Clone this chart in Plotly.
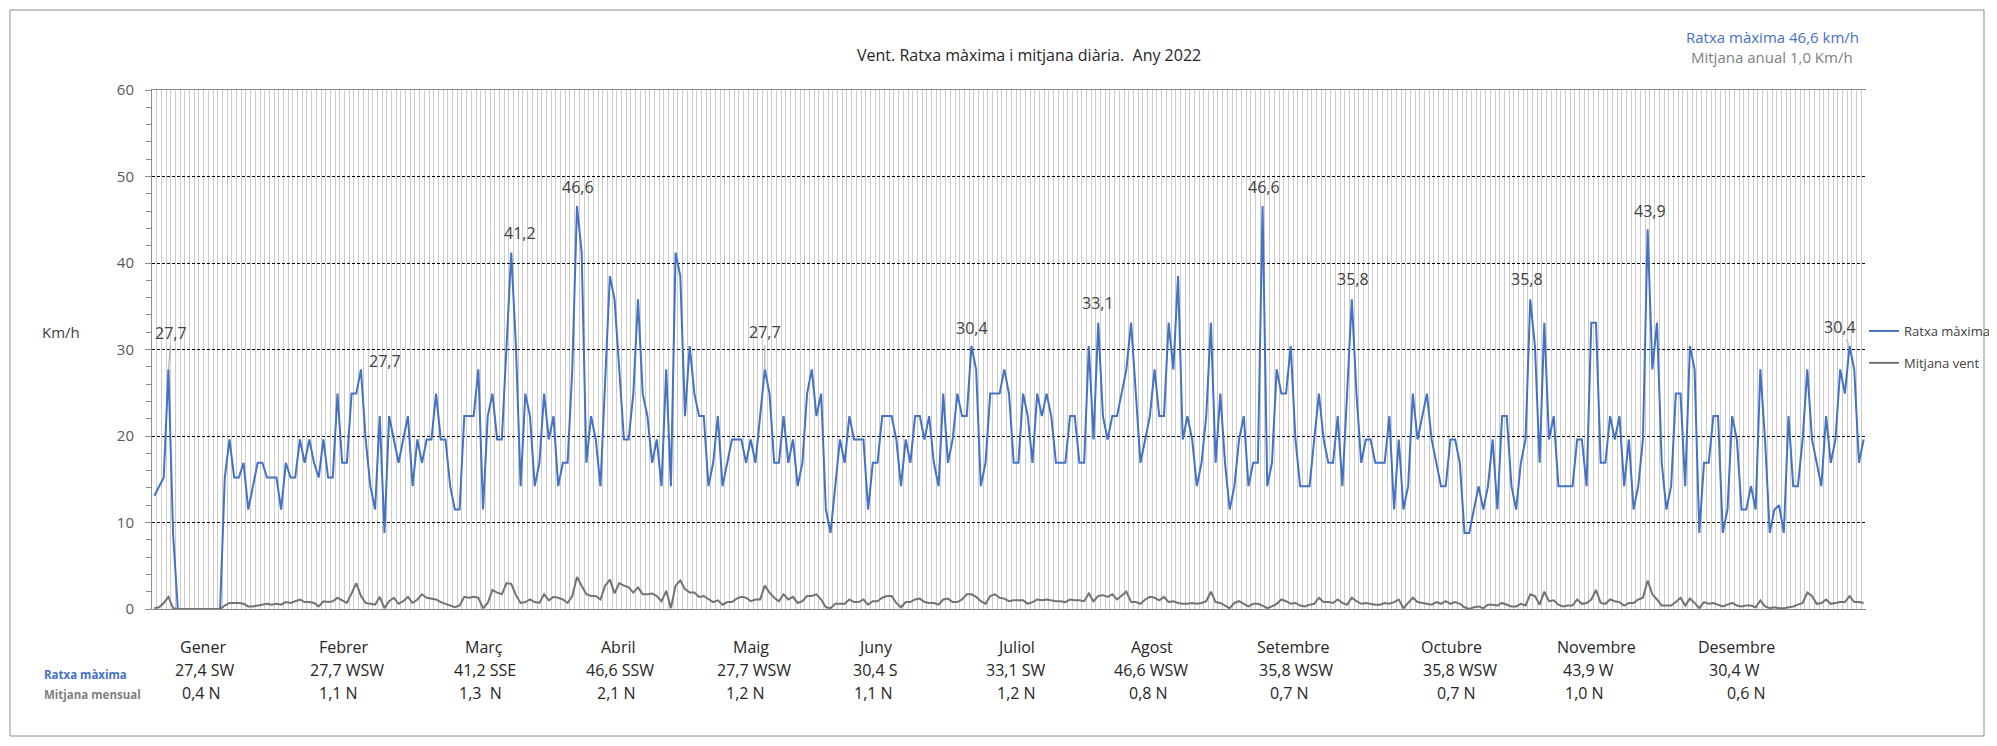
import plotly.graph_objects as go

# ---------------- DATA ----------------
mesos = ["Gener", "Febrer", "Març", "Abril", "Maig", "Juny", "Juliol", "Agost",
         "Setembre", "Octubre", "Novembre", "Desembre"]
ratxa_mes = ["27,4 SW", "27,7 WSW", "41,2 SSE", "46,6 SSW", "27,7 WSW", "30,4 S",
             "33,1 SW", "46,6 WSW", "35,8 WSW", "35,8 WSW", "43,9 W", "30,4 W"]
mitjana_mes = ["0,4 N", "1,1 N", "1,3  N", "2,1 N", "1,2 N", "1,1 N", "1,2 N",
               "0,8 N", "0,7 N", "0,7 N", "1,0 N", "0,6 N"]

# Ratxa màxima diària (km/h), per mes
ratxa_gen = [13.1, 14.2, 15.2, 27.7, 8.6, 0, 0, 0, 0, 0, 0, 0, 0, 0, 0, 15.2, 19.6, 15.2,
             15.2, 16.9, 11.5, 14.2, 16.9, 16.9, 15.2, 15.2, 15.2, 11.5, 16.9, 15.2, 15.2]
ratxa_feb = [19.6, 16.9, 19.6, 16.9, 15.2, 19.6, 15.2, 15.2, 24.9, 16.9, 16.9, 24.9, 24.9,
             27.7, 19.6, 14.2, 11.5, 22.3, 8.8, 22.3, 19.6, 16.9, 19.6, 22.3, 14.2, 19.6,
             16.9, 19.6]
ratxa_mar = [19.6, 24.9, 19.6, 19.6, 14.2, 11.5, 11.5, 22.3, 22.3, 22.3, 27.7, 11.5, 22.3,
             24.9, 19.6, 19.6, 30.4, 41.2, 30.4, 14.2, 24.9, 22.3, 14.2, 16.9, 24.9, 19.6,
             22.3, 14.2, 16.9, 16.9, 27.7]
ratxa_abr = [46.6, 41.2, 16.9, 22.3, 19.6, 14.2, 26.3, 38.5, 35.8, 27.7, 19.6, 19.6, 24.9,
             35.8, 24.9, 22.3, 16.9, 19.6, 14.2, 27.7, 14.2, 41.2, 38.5, 22.3, 30.4, 24.9,
             22.3, 22.3, 14.2, 16.9]
ratxa_mai = [22.3, 14.2, 16.9, 19.6, 19.6, 19.6, 16.9, 19.6, 16.9, 22.3, 27.7, 24.9, 16.9,
             16.9, 22.3, 16.9, 19.6, 14.2, 16.9, 24.9, 27.7, 22.3, 24.9, 11.5, 8.8, 14.2,
             19.6, 16.9, 22.3, 19.6, 19.6]
ratxa_jun = [19.6, 11.5, 16.9, 16.9, 22.3, 22.3, 22.3, 19.6, 14.2, 19.6, 16.9, 22.3, 22.3,
             19.6, 22.3, 16.9, 14.2, 24.9, 16.9, 19.6, 24.9, 22.3, 22.3, 30.4, 27.7, 14.2,
             16.9, 24.9, 24.9, 24.9]
ratxa_jul = [27.7, 24.9, 16.9, 16.9, 24.9, 22.3, 16.9, 24.9, 22.3, 24.9, 22.3, 16.9, 16.9,
             16.9, 22.3, 22.3, 16.9, 16.9, 30.4, 19.6, 33.1, 22.3, 19.6, 22.3, 22.3, 24.9,
             27.7, 33.1, 24.9, 16.9, 19.6]
ratxa_ago = [22.3, 27.7, 22.3, 22.3, 33.1, 27.7, 38.5, 19.6, 22.3, 19.6, 14.2, 16.9, 22.3,
             33.1, 16.9, 24.9, 16.9, 11.5, 14.2, 19.6, 22.3, 14.2, 16.9, 16.9, 46.6, 14.2,
             16.9, 27.7, 24.9, 24.9, 30.4]
ratxa_set = [19.6, 14.2, 14.2, 14.2, 19.6, 24.9, 19.6, 16.9, 16.9, 22.3, 14.2, 24.9, 35.8,
             24.9, 16.9, 19.6, 19.6, 16.9, 16.9, 16.9, 22.3, 11.5, 19.6, 11.5, 14.2, 24.9,
             19.6, 22.3, 24.9, 19.6]
ratxa_oct = [16.9, 14.2, 14.2, 19.6, 19.6, 16.9, 8.8, 8.8, 11.5, 14.2, 11.5, 14.2, 19.6,
             11.5, 22.3, 22.3, 14.2, 11.5, 16.9, 19.6, 35.8, 30.4, 16.9, 33.1, 19.6, 22.3,
             14.2, 14.2, 14.2, 14.2, 19.6]
ratxa_nov = [19.6, 14.2, 33.1, 33.1, 16.9, 16.9, 22.3, 19.6, 22.3, 14.2, 19.6, 11.5, 14.2,
             19.6, 43.9, 27.7, 33.1, 16.9, 11.5, 14.2, 24.9, 24.9, 14.2, 30.4, 27.7, 8.8,
             16.9, 16.9, 22.3, 22.3]
ratxa_des = [8.8, 11.5, 22.3, 19.6, 11.5, 11.5, 14.2, 11.5, 27.7, 19.6, 8.8, 11.5, 12.0,
             8.8, 22.3, 14.2, 14.2, 19.6, 27.7, 19.6, 16.9, 14.2, 22.3, 16.9, 19.6, 27.7,
             24.9, 30.4, 27.7, 16.9, 19.6]

# Mitjana diària del vent (km/h), per mes
mitjana_gen = [0.1, 0.2, 0.7, 1.4, 0.1, 0, 0, 0, 0, 0, 0, 0, 0, 0, 0, 0.4, 0.7, 0.7, 0.7,
               0.6, 0.3, 0.3, 0.4, 0.5, 0.6, 0.5, 0.6, 0.5, 0.8, 0.7, 0.9]
mitjana_feb = [1.1, 0.8, 0.8, 0.7, 0.3, 0.9, 0.8, 0.9, 1.3, 1.0, 0.7, 1.8, 3.0, 1.5, 0.7,
               0.6, 0.5, 1.4, 0.1, 0.9, 1.3, 0.6, 0.9, 1.4, 0.7, 1.1, 1.7, 1.3]
mitjana_mar = [1.2, 1.1, 0.8, 0.6, 0.4, 0.2, 0.4, 1.4, 1.3, 1.4, 1.3, 0.1, 0.7, 2.2, 1.9,
               1.7, 3.0, 2.9, 1.6, 0.7, 0.8, 1.1, 0.8, 0.7, 1.7, 1.0, 1.4, 1.3, 1.1, 0.7, 1.5]
mitjana_abr = [3.7, 2.7, 1.7, 1.5, 1.5, 1.1, 2.7, 3.4, 1.8, 3.0, 2.7, 2.5, 1.9, 2.5, 1.7,
               1.7, 1.8, 1.5, 0.9, 2.1, 0.1, 2.7, 3.3, 2.3, 1.9, 1.9, 1.4, 1.5, 1.1, 0.8]
mitjana_mai = [1.0, 0.5, 0.8, 0.8, 1.2, 1.4, 1.3, 0.9, 1.1, 1.1, 2.7, 1.9, 1.3, 0.9, 1.7,
               1.1, 1.4, 0.7, 0.9, 1.5, 1.5, 1.7, 1.1, 0.2, 0.1, 0.6, 0.6, 0.6, 1.1, 0.8, 0.8]
mitjana_jun = [1.1, 0.5, 0.9, 0.9, 1.3, 1.5, 1.5, 0.7, 0.2, 0.8, 0.8, 1.1, 1.2, 0.8, 0.7,
               0.7, 0.5, 1.1, 1.2, 0.8, 0.8, 1.1, 1.7, 1.7, 1.4, 0.9, 0.6, 1.5, 1.7, 1.3]
mitjana_jul = [1.2, 0.9, 1.0, 1.0, 1.0, 0.6, 0.8, 1.1, 1.0, 1.1, 1.0, 0.9, 0.9, 0.8, 1.1,
               1.0, 1.0, 0.9, 1.8, 0.9, 1.5, 1.6, 1.4, 1.7, 1.1, 1.5, 2.0, 0.8, 0.8, 0.6, 1.1]
mitjana_ago = [1.4, 1.3, 1.0, 1.4, 0.8, 0.9, 0.7, 0.6, 0.6, 0.7, 0.6, 0.7, 0.9, 2.0, 0.8,
               0.7, 0.4, 0.1, 0.7, 0.9, 0.6, 0.3, 0.6, 0.6, 0.4, 0.1, 0.3, 0.6, 1.1, 0.9, 0.6]
mitjana_set = [0.7, 0.4, 0.3, 0.5, 0.6, 1.3, 0.8, 0.8, 0.7, 1.1, 0.7, 0.5, 1.3, 0.9, 0.6,
               0.7, 0.6, 0.5, 0.5, 0.7, 0.6, 0.8, 1.1, 0.1, 0.7, 1.3, 0.8, 0.7, 0.6, 0.5]
mitjana_oct = [0.8, 0.6, 0.9, 0.6, 0.8, 0.6, 0.2, 0.0, 0.2, 0.3, 0.1, 0.5, 0.5, 0.4, 0.7,
               0.5, 0.3, 0.3, 0.6, 0.4, 1.7, 1.5, 0.5, 2.0, 0.9, 1.0, 0.5, 0.3, 0.4, 0.4, 1.1]
mitjana_nov = [0.6, 0.7, 1.1, 2.2, 0.7, 0.6, 1.1, 0.9, 0.8, 0.4, 0.7, 0.7, 1.1, 1.3, 3.3,
               1.7, 1.1, 0.4, 0.4, 0.4, 0.8, 1.3, 0.4, 1.2, 0.7, 0.1, 0.8, 0.6, 0.7, 0.5]
mitjana_des = [0.3, 0.5, 0.7, 0.4, 0.3, 0.4, 0.4, 0.2, 1.0, 0.3, 0.1, 0.2, 0.1, 0.1, 0.2,
               0.3, 0.5, 0.7, 1.9, 1.5, 0.6, 0.7, 1.1, 0.6, 0.7, 0.8, 0.8, 1.5, 0.8, 0.8, 0.7]

# days (0-based) whose gust carries a data label
dies_etiquetats = [3, 44, 76, 90, 130, 174, 201, 236, 255, 293, 318, 361]

ratxa = (ratxa_gen + ratxa_feb + ratxa_mar + ratxa_abr + ratxa_mai + ratxa_jun +
         ratxa_jul + ratxa_ago + ratxa_set + ratxa_oct + ratxa_nov + ratxa_des)
mitjana = (mitjana_gen + mitjana_feb + mitjana_mar + mitjana_abr + mitjana_mai +
           mitjana_jun + mitjana_jul + mitjana_ago + mitjana_set + mitjana_oct +
           mitjana_nov + mitjana_des)
dies = list(range(len(ratxa)))

# ---------------- LAYOUT ----------------
PAGE_W, PAGE_H = 1997, 746
OFF = 8                      # default body margin of the html page
W, H = PAGE_W - OFF, PAGE_H - OFF
L, R, T, B = 152, 1866, 90, 609     # plot area in page pixels
PW, PH = R - L, B - T
FONT = "Open Sans, DejaVu Sans, sans-serif"
BLUE = "#4472C4"
GREY = "#737373"
TXT = "#404040"
DARK = "#262626"


def px(xp):
    return (xp - L) / PW


def py(yp):
    return (B - yp) / PH


# label offsets in pixels (dx, dy, leader line)
label_offsets = [(3, -36, True), (24, -8, False), (9, -20, False), (1, -19, False),
                 (0, -37, True), (1, -18, False), (0, -20, False), (1, -19, False),
                 (1, -20, False), (-3, -20, False), (2, -18, False), (-10, -19, True)]

# table columns (pixel centres)
mes_x = [203, 344, 484, 618, 751, 875, 1016, 1152, 1293, 1451, 1596, 1736]
ratxa_x = [205, 347, 485, 620, 754, 875, 1016, 1151, 1296, 1460, 1588, 1734]
mitj_x = [201, 338, 480, 616, 745, 873, 1016, 1148, 1289, 1456, 1584, 1746]

fig = go.Figure()
fig.add_trace(go.Scatter(x=dies, y=ratxa, mode="lines", name="Ratxa màxima",
                         legendgroup="a", line=dict(color=BLUE, width=2)))
fig.add_trace(go.Scatter(x=dies, y=mitjana, mode="lines", name="Mitjana vent",
                         legendgroup="b", line=dict(color=GREY, width=2)))

annotations = []
for d, (dx, dy, lead) in zip(dies_etiquetats, label_offsets):
    annotations.append(dict(
        x=d, y=ratxa[d], xref="x", yref="y",
        text=f"{ratxa[d]:.1f}".replace(".", ","),
        showarrow=True, arrowhead=0, arrowwidth=1,
        arrowcolor="#a6a6a6" if lead else "rgba(0,0,0,0)",
        ax=dx, ay=dy, font=dict(family=FONT, size=16, color=TXT)))


def txt(xp, yp, text, size, color, xanchor="center"):
    return dict(x=px(xp), y=py(yp), xref="paper", yref="paper", text=text,
                xanchor=xanchor, yanchor="middle", showarrow=False,
                font=dict(family=FONT, size=size, color=color))


annotations.append(txt(1029, 55, "Vent. Ratxa màxima i mitjana diària.  Any 2022", 16, DARK))
annotations.append(txt(1772, 37, "Ratxa màxima 46,6 km/h", 15, BLUE))
annotations.append(txt(1772, 57, "Mitjana anual 1,0 Km/h", 15, "#7f7f7f"))
annotations.append(txt(61, 332, "Km/h", 15, TXT))

for m, xm, t1, x1, t2, x2 in zip(mesos, mes_x, ratxa_mes, ratxa_x, mitjana_mes, mitj_x):
    annotations.append(txt(xm, 647, m, 16, DARK))
    annotations.append(txt(x1, 670, t1, 16, DARK))
    annotations.append(txt(x2, 693, t2, 16, DARK))
annotations.append(txt(42, 674, "<b>Ratxa màxima</b>", 11.5, BLUE, "left"))
annotations.append(txt(42, 694, "<b>Mitjana mensual</b>", 11.5, "#7f7f7f", "left"))

shapes = [dict(type="rect", xref="paper", yref="paper",
               x0=px(10), x1=px(1984), y0=py(10), y1=py(736),
               line=dict(color="#8c8c8c", width=1), fillcolor="rgba(0,0,0,0)", layer="below")]

fig.update_layout(
    width=W, height=H,
    margin=dict(l=L - OFF, r=PAGE_W - R, t=T - OFF, b=PAGE_H - B, pad=0, autoexpand=False),
    paper_bgcolor="white", plot_bgcolor="white",
    font=dict(family=FONT, color=TXT),
    showlegend=True,
    legend=dict(x=px(1864), y=py(316), xanchor="left", yanchor="top",
                font=dict(family=FONT, size=13, color=TXT),
                tracegroupgap=12, bgcolor="rgba(0,0,0,0)", itemwidth=30),
    annotations=annotations,
    shapes=shapes,
    xaxis=dict(range=[-0.5, len(dies) - 0.5], tickmode="linear", tick0=-0.5, dtick=1,
               showgrid=True, gridcolor="#cccccc", gridwidth=1,
               showticklabels=False, ticks="", zeroline=False,
               showline=True, mirror=True, linecolor="#8c8c8c", linewidth=1),
    yaxis=dict(range=[0, 60], tickmode="linear", tick0=0, dtick=10,
               showgrid=True, gridcolor="#000000", gridwidth=1, griddash="3px,2px",
               ticks="outside", ticklen=6, tickcolor="#8c8c8c",
               tickfont=dict(family=FONT, size=15, color="#595959"),
               ticklabelstandoff=8,
               minor=dict(dtick=2, ticks="outside", ticklen=5, tickcolor="#8c8c8c",
                          showgrid=False),
               showline=True, linecolor="#8c8c8c", linewidth=1, zeroline=False),
)

fig.write_html("out.html")
